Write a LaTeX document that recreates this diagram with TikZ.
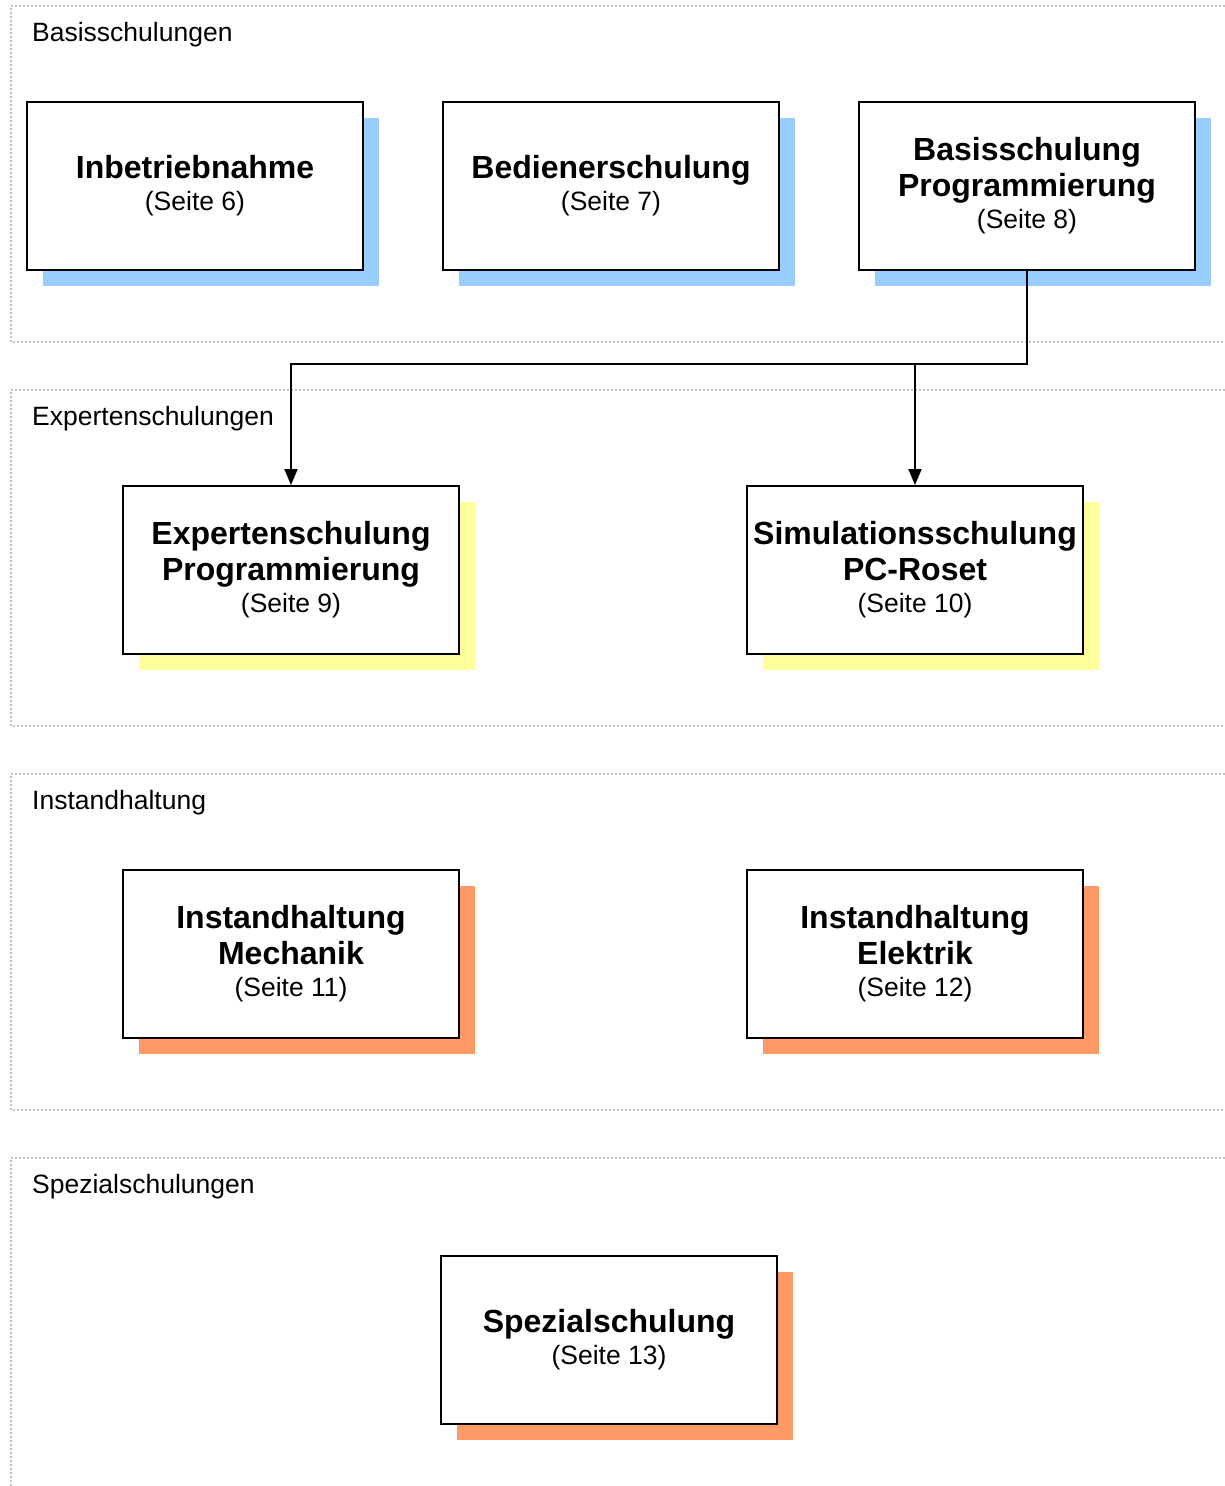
\documentclass[tikz,border=0pt]{standalone}
\usepackage{fontspec}
\setmainfont{Liberation Sans}
\usetikzlibrary{shadows,arrows.meta}

\definecolor{blueshade}{HTML}{99CCFF}
\definecolor{yellowshade}{HTML}{FFFF99}
\definecolor{orangeshade}{HTML}{FF9966}
\definecolor{framegray}{HTML}{C0C0C0}

\newcommand{\seite}[1]{\\[-4pt]\mdseries\fontsize{26.5}{34}\selectfont(Seite #1)}

\tikzset{
  kursbox/.style={draw, line width=2pt, fill=white, minimum width=336pt,
    minimum height=168pt, align=center, inner sep=2pt,
    font=\fontsize{32}{36}\selectfont\bfseries,
    drop shadow={shadow xshift=16pt, shadow yshift=-16pt, fill=#1, opacity=1}},
  bandframe/.style={draw=framegray, line width=2pt, dash pattern=on 2pt off 2pt},
  bandlabel/.style={anchor=west, inner sep=0pt, font=\fontsize{26.5}{30}\selectfont},
  conn/.style={line width=2pt, -{Triangle[length=16pt,width=13pt]}}
}

\begin{document}
\begin{tikzpicture}[x=1pt,y=-1pt]
  \useasboundingbox (0,0) rectangle (1225,1486);
  % frames
  \draw[bandframe] (1225,6) -- (11,6) -- (11,342) -- (1225,342);
  \draw[bandframe] (1225,390) -- (11,390) -- (11,726) -- (1225,726);
  \draw[bandframe] (1225,774) -- (11,774) -- (11,1110) -- (1225,1110);
  \draw[bandframe] (1225,1158) -- (11,1158) -- (11,1486);
  \node[bandlabel] (lb1) at (32,35) {Basisschulungen};
  \node[bandlabel] (lb2) at (32,419) {Expertenschulungen};
  \node[bandlabel] (lb3) at (32,803) {Instandhaltung};
  \node[bandlabel] (lb4) at (32,1187) {Spezialschulungen};
  % boxes
  \node[kursbox=blueshade] (ib) at (195,186) {Inbetriebnahme\seite{6}};
  \node[kursbox=blueshade] (bs) at (611,186) {Bedienerschulung\seite{7}};
  \node[kursbox=blueshade] (bp) at (1027,186) {Basisschulung\\Programmierung\seite{8}};
  \node[kursbox=yellowshade] (ep) at (291,570) {Expertenschulung\\Programmierung\seite{9}};
  \node[kursbox=yellowshade] (sp) at (915,570) {Simulationsschulung\\PC-Roset\seite{10}};
  \node[kursbox=orangeshade] (im) at (291,954) {Instandhaltung\\Mechanik\seite{11}};
  \node[kursbox=orangeshade] (ie) at (915,954) {Instandhaltung\\Elektrik\seite{12}};
  \node[kursbox=orangeshade] (ss) at (609,1340) {Spezialschulung\seite{13}};
  % connectors
  \coordinate (knee) at (1027,364);
  \draw[conn] (bp.south) -- (knee) -| (ep.north);
  \draw[conn] (knee -| sp.north) -- (sp.north);
\end{tikzpicture}
\end{document}
